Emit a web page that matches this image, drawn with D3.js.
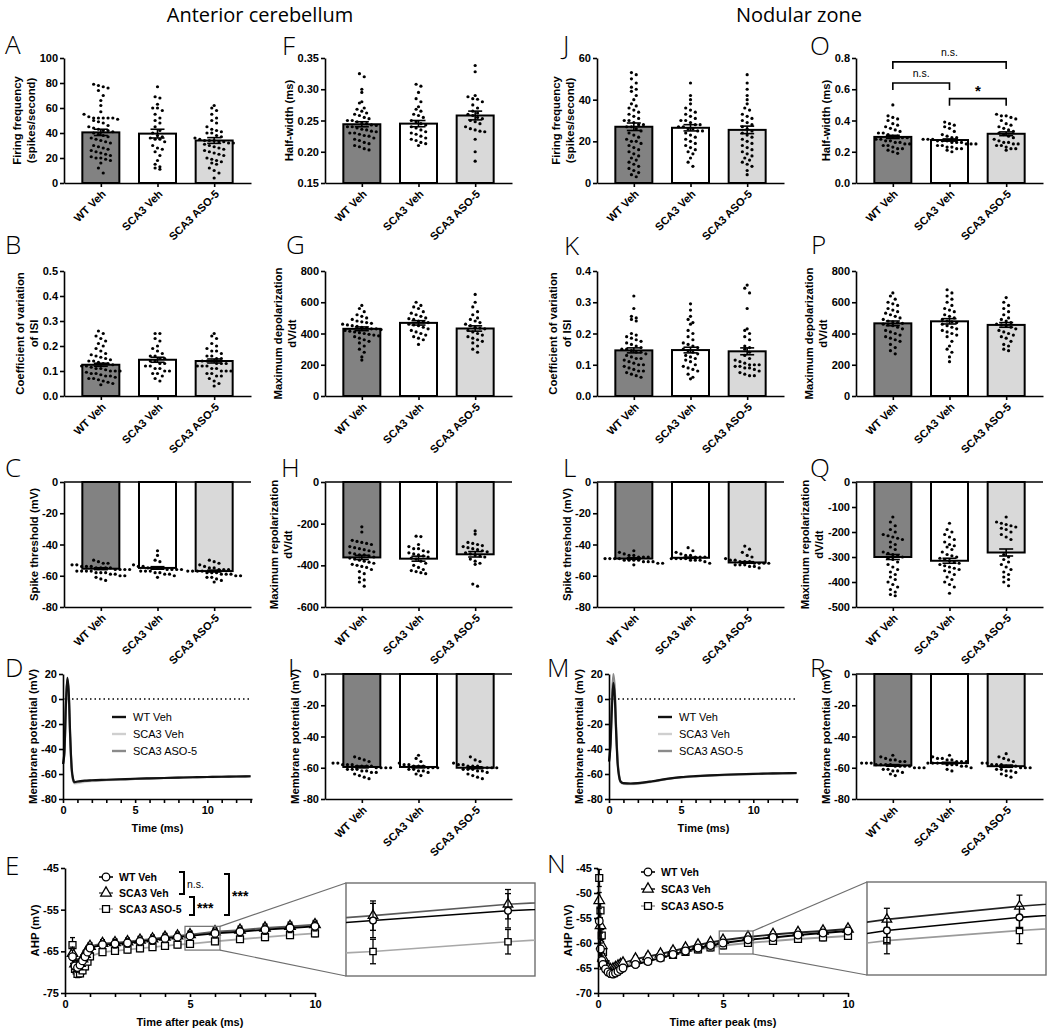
<!DOCTYPE html>
<html>
<head>
<meta charset="utf-8">
<script src="https://cdn.jsdelivr.net/npm/d3@7"></script>
<style>
  body { margin: 0; background: #fff; }
  svg { display: block; font-family: "Liberation Sans", Arial, sans-serif; }
</style>
</head>
<body>
<div id="chart"></div>
<script>
const groups = ["WT Veh", "SCA3 Veh", "SCA3 ASO-5"];

// ---- bar panels: means, SEM, individual cells ----
const aMean = [40.5, 39.5, 34.0], aSem = [2.5, 3.5, 2.3];
const aWT = [79,78,77,76,74,70,66,62,57,55,53,52,52,52,52,52,51,50,49,48,46,45,44,43,42,42,41,40,39,38,37,36,35,34,33,32,30,29,28,27,26,25,24,23,22,21,20,20,19,18,16,12,8];
const aSCA = [77,69,68,63,60,60,58,55,52,50,48,45,42,40,38,37,36,35,35,33,30,28,27,25,22,18,15,13,12,11];
const aASO = [62,60,58,55,52,50,48,45,43,42,41,40,40,38,37,36,35,34,34,34,33,33,32,32,31,30,29,28,27,26,25,24,23,22,20,19,18,17,16,15,12,10,8,4];

const bMean = [0.125, 0.145, 0.14], bSem = [0.006, 0.01, 0.008];
const bWT = [0.26,0.25,0.24,0.23,0.22,0.21,0.2,0.19,0.18,0.17,0.165,0.16,0.155,0.15,0.145,0.14,0.14,0.135,0.13,0.13,0.125,0.12,0.12,0.115,0.11,0.11,0.105,0.1,0.1,0.1,0.095,0.09,0.09,0.085,0.08,0.08,0.075,0.07,0.07,0.065,0.06,0.055,0.05,0.045];
const bSCA = [0.25,0.25,0.23,0.22,0.2,0.19,0.18,0.17,0.16,0.16,0.15,0.15,0.14,0.14,0.13,0.13,0.12,0.12,0.11,0.11,0.1,0.1,0.09,0.09,0.08,0.07,0.06];
const bASO = [0.25,0.24,0.23,0.21,0.2,0.19,0.18,0.18,0.17,0.16,0.16,0.15,0.15,0.14,0.14,0.14,0.13,0.13,0.13,0.12,0.12,0.12,0.11,0.11,0.1,0.1,0.1,0.09,0.09,0.08,0.08,0.07,0.06,0.05,0.04];

const cMean = [-55.5, -55.0, -57.0], cSem = [0.6, 0.8, 0.6];
const cWT = [-50,-51,-52,-52,-53,-53,-54,-54,-54,-55,-55,-55,-55,-56,-56,-56,-56,-57,-57,-57,-57,-58,-58,-58,-59,-59,-60,-60,-61,-62,-63];
const cSCA = [-44,-47,-50,-51,-53,-54,-54,-55,-55,-55,-55,-56,-56,-56,-56,-57,-57,-57,-58,-58,-59,-59,-60,-61];
const cASO = [-50,-51,-52,-53,-54,-55,-55,-56,-56,-56,-57,-57,-57,-57,-58,-58,-58,-59,-59,-59,-60,-60,-61,-61,-62,-63,-64];

const fMean = [0.244, 0.245, 0.258], fSem = [0.004, 0.005, 0.007];
const fWT = [0.325,0.32,0.3,0.295,0.28,0.278,0.27,0.268,0.265,0.262,0.26,0.258,0.255,0.253,0.25,0.25,0.248,0.246,0.245,0.243,0.242,0.24,0.24,0.238,0.236,0.235,0.233,0.232,0.23,0.23,0.228,0.226,0.225,0.222,0.22,0.218,0.215,0.213,0.21,0.208,0.205,0.203];
const fSCA = [0.308,0.305,0.295,0.285,0.28,0.272,0.268,0.265,0.26,0.258,0.255,0.25,0.248,0.245,0.243,0.24,0.238,0.235,0.232,0.23,0.228,0.225,0.222,0.22,0.218,0.215,0.213,0.21];
const fASO = [0.338,0.328,0.29,0.288,0.285,0.284,0.28,0.275,0.27,0.265,0.262,0.26,0.258,0.255,0.253,0.25,0.248,0.245,0.24,0.237,0.235,0.233,0.232,0.22,0.2,0.185];

const gMean = [430, 468, 432], gSem = [12, 14, 17];
const gWT = [580,560,540,520,510,500,490,480,475,470,465,460,455,450,445,440,435,430,430,425,420,415,410,405,400,395,390,385,380,370,360,350,340,320,300,280,250,230];
const gSCA = [600,580,570,560,540,530,520,510,500,495,490,480,475,470,460,455,450,440,430,420,410,400,390,380,370,360,330];
const gASO = [650,600,570,540,520,500,490,480,470,460,450,440,435,430,420,410,400,390,380,370,360,350,340,320,300,280];

const hMean = [-362, -368, -347], hSem = [10, 12, 13];
const hWT = [-215,-240,-280,-285,-290,-295,-300,-310,-315,-320,-325,-330,-335,-340,-345,-350,-350,-355,-360,-365,-370,-375,-380,-385,-390,-395,-400,-405,-410,-420,-430,-440,-460,-470,-480,-500];
const hSCA = [-260,-262,-300,-310,-320,-320,-330,-335,-340,-345,-350,-355,-360,-365,-370,-380,-390,-400,-410,-420,-425,-430,-435,-440];
const hASO = [-235,-250,-290,-295,-300,-305,-310,-315,-320,-325,-330,-335,-340,-345,-350,-355,-360,-370,-380,-390,-395,-490,-500];

const iMean = [-59.5, -59.5, -60.0], iSem = [0.6, 0.6, 0.6];
const iWT = [-53,-54,-55,-56,-57,-57,-58,-58,-58,-59,-59,-59,-59,-60,-60,-60,-60,-61,-61,-61,-62,-62,-63,-63,-64,-65,-66,-67];
const iSCA = [-52,-54,-56,-57,-58,-58,-59,-59,-59,-60,-60,-60,-61,-61,-62,-62,-63,-64,-65];
const iASO = [-53,-55,-56,-57,-58,-58,-59,-59,-59,-60,-60,-60,-60,-61,-61,-61,-62,-62,-63,-64,-65,-66,-67];

const jMean = [27, 26.5, 25.5], jSem = [1.8, 1.5, 1.8];
const jWT = [53,52,50,48,46,45,44,42,40,38,37,36,35,34,33,32,31,30,30,29,28,28,27,27,26,25,24,23,22,21,20,20,19,18,17,16,15,14,13,12,11,10,9,8,7,6,5,4,3];
const jSCA = [48,42,40,38,36,35,34,33,32,31,30,30,29,28,28,27,27,26,26,25,25,24,23,22,21,20,19,18,17,16,15,14,12,10,8];
const jASO = [52,48,45,42,40,38,36,35,33,32,31,30,29,28,27,26,25,24,23,22,21,20,19,18,17,16,15,14,13,12,11,10,9,8,6,4];

const kMean = [0.146, 0.147, 0.143], kSem = [0.008, 0.009, 0.011];
const kWT = [0.32,0.28,0.255,0.25,0.245,0.24,0.2,0.195,0.19,0.185,0.18,0.175,0.17,0.165,0.16,0.155,0.15,0.15,0.145,0.14,0.14,0.135,0.13,0.125,0.12,0.12,0.115,0.11,0.105,0.1,0.1,0.095,0.09,0.085,0.08,0.08,0.075,0.07,0.065,0.06];
const kSCA = [0.295,0.275,0.255,0.245,0.235,0.23,0.21,0.2,0.19,0.18,0.17,0.165,0.16,0.155,0.15,0.145,0.14,0.135,0.13,0.125,0.12,0.115,0.11,0.1,0.095,0.09,0.085,0.08,0.07,0.06,0.055];
const kASO = [0.355,0.345,0.33,0.28,0.215,0.21,0.2,0.19,0.18,0.16,0.155,0.15,0.14,0.13,0.12,0.115,0.11,0.105,0.1,0.1,0.1,0.095,0.095,0.09,0.09,0.085,0.08,0.075,0.07,0.065,0.065];

const lMean = [-49, -48.5, -51.5], lSem = [0.5, 0.4, 0.5];
const lWT = [-44,-45,-46,-47,-47,-48,-48,-48,-49,-49,-49,-49,-50,-50,-50,-50,-51,-51,-51,-52,-52,-53];
const lSCA = [-42,-44,-45,-46,-47,-47,-48,-48,-48,-49,-49,-49,-49,-50,-50,-50,-51,-52];
const lASO = [-41,-43,-45,-47,-48,-49,-50,-50,-51,-51,-51,-52,-52,-52,-52,-53,-53,-53,-54,-54,-55];

const oMean = [0.295, 0.275, 0.315], oSem = [0.01, 0.007, 0.012];
const oWT = [0.5,0.43,0.42,0.41,0.4,0.38,0.37,0.36,0.35,0.34,0.33,0.32,0.32,0.31,0.3,0.3,0.29,0.29,0.28,0.28,0.27,0.27,0.26,0.26,0.25,0.25,0.24,0.24,0.23,0.22,0.22,0.21,0.2,0.19];
const oSCA = [0.39,0.38,0.37,0.36,0.35,0.33,0.31,0.3,0.29,0.29,0.28,0.28,0.28,0.27,0.27,0.27,0.26,0.26,0.26,0.25,0.25,0.25,0.24,0.24,0.23,0.23,0.22,0.22,0.21,0.2];
const oASO = [0.44,0.43,0.43,0.42,0.41,0.4,0.38,0.37,0.36,0.35,0.34,0.33,0.32,0.31,0.3,0.29,0.28,0.27,0.26,0.26,0.25,0.25,0.24,0.24,0.23,0.22,0.22,0.21];
const oBrackets = [
  { from: 0, to: 2, level: 0.775, label: "n.s." },
  { from: 0, to: 1, level: 0.64, label: "n.s." },
  { from: 1, to: 2, level: 0.54, label: "*" }
];

const pMean = [465, 478, 455], pSem = [15, 17, 15];
const pWT = [660,640,620,600,590,580,560,550,540,530,520,510,500,490,480,475,470,465,460,455,450,440,430,420,410,400,390,380,370,360,350,330,310,290,270];
const pSCA = [680,660,640,620,600,580,560,550,540,520,510,500,490,480,475,470,460,450,440,430,420,410,400,390,380,350,320,300,280,250,220];
const pASO = [630,600,580,560,540,520,500,490,480,470,460,455,450,440,430,420,410,400,390,380,370,350,330,320,300,290];

const qMean = [-300, -315, -282], qSem = [10, 10, 14];
const qWT = [-140,-160,-175,-190,-200,-210,-215,-220,-225,-230,-240,-250,-260,-270,-280,-285,-290,-295,-300,-305,-310,-320,-330,-340,-350,-360,-370,-380,-390,-400,-410,-420,-430,-440,-450,-455];
const qSCA = [-165,-190,-200,-210,-220,-230,-240,-250,-255,-260,-270,-280,-290,-295,-300,-305,-310,-315,-320,-325,-330,-335,-340,-345,-350,-355,-360,-370,-380,-390,-400,-410,-420,-445];
const qASO = [-140,-160,-165,-170,-175,-180,-185,-190,-200,-210,-220,-230,-290,-300,-310,-320,-330,-340,-350,-360,-370,-380,-390,-400,-415];

const rMean = [-58.5, -57, -59], rSem = [0.5, 0.5, 0.7];
const rWT = [-52,-53,-54,-55,-55,-56,-56,-57,-57,-57,-58,-58,-58,-58,-59,-59,-59,-59,-60,-60,-60,-61,-61,-62,-62,-63,-64,-65];
const rSCA = [-52,-53,-54,-54,-55,-55,-56,-56,-56,-57,-57,-57,-57,-58,-58,-58,-59,-59,-60,-61,-62];
const rASO = [-51,-53,-54,-55,-56,-57,-57,-58,-58,-58,-59,-59,-59,-60,-60,-60,-61,-61,-62,-62,-63,-64,-65,-66];

// ---- average action potential traces (D, M) ----
const traceT = [0,0.1,0.2,0.3,0.4,0.5,0.6,0.7,0.8,1.0,1.5,2,3,4,5,6,7,8,9,10,11,12,13];
const dWT  = [-52,-42,-5,17,5,-30,-55,-64,-66.5,-66,-65.3,-65,-64.6,-64.2,-63.8,-63.5,-63.2,-62.9,-62.6,-62.4,-62.2,-62.0,-61.8];
const dSCA = [-52,-43,-8,15,3,-32,-57,-65.5,-67.5,-67.3,-66.3,-65.7,-65,-64.5,-64,-63.6,-63.3,-63,-62.7,-62.5,-62.3,-62.1,-61.9];
const dASO = [-52,-42,-6,16,4,-31,-56,-64.5,-66.8,-66.4,-65.6,-65.2,-64.8,-64.3,-63.9,-63.5,-63.2,-62.9,-62.6,-62.4,-62.2,-62.0,-61.8];
const mWT  = [-50,-38,-8,13,2,-28,-52,-62,-66,-67.3,-67.6,-67.3,-65.8,-63.9,-62.5,-61.7,-61.1,-60.6,-60.2,-59.9,-59.6,-59.4,-59.2];
const mSCA = [-50,-37,-5,17,6,-26,-51,-62,-66.5,-68,-68.2,-67.8,-66.2,-64.2,-62.8,-62,-61.4,-60.9,-60.5,-60.1,-59.8,-59.6,-59.4];
const mASO = [-50,-35,-2,20,8,-25,-50,-61,-66,-67.5,-67.8,-67.5,-66,-64,-62.6,-61.8,-61.2,-60.7,-60.3,-60,-59.7,-59.5,-59.3];

// ---- AHP time courses (E, N) ----
const eT = [0.3,0.4,0.5,0.6,0.7,0.8,0.9,1.0,1.5,2,2.5,3,3.5,4,4.5,5,6,7,8,9,10];
const eWT  = [-66.3,-68.5,-68.9,-68.3,-67.3,-66.3,-65.2,-64.2,-63.4,-63.2,-63.0,-62.6,-62.3,-61.9,-61.6,-61.3,-60.7,-60.3,-59.8,-59.4,-59.0];
const eSCA = [-65.5,-68.0,-68.6,-67.9,-66.8,-65.7,-64.7,-63.8,-63.1,-62.9,-62.7,-62.3,-62.0,-61.6,-61.3,-61.0,-60.3,-59.9,-59.4,-59.0,-58.6];
const eASO = [-63.5,-69.2,-70.4,-70.3,-69.6,-68.6,-67.5,-66.2,-65.2,-64.9,-64.6,-64.3,-64.0,-63.7,-63.4,-63.2,-62.6,-62.1,-61.6,-61.1,-60.7];
const eWTsem  = [1.6,1.3,1.1,1.0,1.0,0.9,0.9,0.9,0.9,1.0,1.0,1.0,1.0,1.0,1.0,1.05,1.05,1.05,1.1,1.1,1.1];
const eSCAsem = [1.5,1.2,1.0,1.0,0.9,0.9,0.9,0.9,0.9,0.9,0.9,0.9,0.9,0.9,0.9,0.9,0.9,0.95,0.95,1.0,1.0];
const eASOsem = [1.8,1.2,0.9,0.8,0.8,0.8,0.8,0.8,0.75,0.75,0.75,0.75,0.75,0.75,0.75,0.75,0.75,0.75,0.8,0.8,0.8];

const nT = [0.05,0.1,0.15,0.2,0.3,0.4,0.5,0.6,0.7,0.8,0.9,1.0,1.5,2,2.5,3,3.5,4,4.5,5,6,7,8,9,10];
const nWT  = [-55.6,-61.2,-63.5,-64.3,-65.2,-65.8,-66.1,-66.2,-66.0,-65.7,-65.3,-65.0,-64.3,-63.7,-63.0,-62.3,-61.6,-61.0,-60.5,-60.0,-59.35,-58.9,-58.4,-58.0,-57.6];
const nSCA = [-51.5,-56.5,-60.5,-63.0,-64.6,-65.1,-65.3,-65.2,-64.9,-64.6,-64.3,-64.0,-63.2,-62.7,-62.2,-61.6,-61.0,-60.4,-59.9,-59.45,-58.8,-58.3,-57.9,-57.6,-57.2];
const nASO = [-47.0,-53.5,-58.5,-61.8,-64.2,-65.2,-65.6,-65.7,-65.5,-65.2,-64.8,-64.5,-64.0,-63.5,-62.9,-62.4,-61.8,-61.3,-60.9,-60.5,-60.0,-59.6,-59.2,-58.9,-58.6];
const nWTsem  = [1.5,1.2,0.9,0.8,0.7,0.7,0.7,0.7,0.7,0.7,0.7,0.7,0.6,0.6,0.6,0.6,0.6,0.6,0.6,0.6,0.55,0.55,0.55,0.55,0.55];
const nSCAsem = [1.6,1.5,1.2,0.9,0.7,0.7,0.7,0.7,0.6,0.6,0.6,0.6,0.6,0.6,0.6,0.6,0.55,0.55,0.55,0.55,0.55,0.55,0.55,0.55,0.55];
const nASOsem = [1.7,1.5,1.2,1.0,0.8,0.7,0.7,0.7,0.7,0.7,0.7,0.7,0.65,0.65,0.65,0.65,0.65,0.65,0.65,0.65,0.65,0.65,0.65,0.65,0.65];

// ---- layout ----
const colX = [64, 325, 597, 856];
const rowTop = [58, 271, 482, 674, 868];
const PH = 125, PW = 187, BW = 37;
const fills = ["#828282", "#ffffff", "#d9d9d9"];
const font = "'Liberation Sans', Arial, sans-serif";
const minus = f => d => d3.format(f)(d).replace("\u2212", "-");

const svg = d3.select("#chart").append("svg")
  .attr("width", 1050).attr("height", 1032)
  .attr("viewBox", "0 0 1050 1032");

function styleAxis(sel) {
  sel.attr("font-family", font);
  sel.select(".domain").attr("stroke", "#000").attr("stroke-width", 1.6);
  sel.selectAll(".tick line").attr("stroke", "#000").attr("stroke-width", 1.6);
  sel.selectAll(".tick text").attr("font-size", 11).attr("font-weight", "bold").attr("fill", "#000");
}

function yAxis(g, y, x0, ticks, fmt) {
  const ax = g.append("g").attr("transform", `translate(${x0},0)`)
    .call(d3.axisLeft(y).tickValues(ticks).tickFormat(minus(fmt)).tickSize(4).tickPadding(2).tickSizeOuter(0))
    .call(styleAxis);
  let w = 0;
  ax.selectAll(".tick text").each(function () { w = Math.max(w, this.getComputedTextLength()); });
  return x0 - 6 - w - 8.5;
}

function yTitle(g, lines, xNear, top) {
  const cy = top + PH / 2;
  lines.forEach((t, i) => {
    const x = xNear - (lines.length - 1 - i) * 14.5;
    g.append("text")
      .attr("transform", `translate(${x},${cy}) rotate(-90)`)
      .attr("text-anchor", "middle").attr("dy", "0.35em")
      .attr("font-family", font).attr("font-size", 11.3).attr("font-weight", "bold")
      .text(t);
  });
}

// column-scatter layout: spread values that fall in the same pixel band
function swarm(vals, y, cx) {
  const pts = vals.map(v => ({ py: y(v) })).sort((a, b) => a.py - b.py);
  const rows = d3.groups(pts, p => Math.floor(p.py / 6));
  const out = [];
  rows.forEach(([, r]) => {
    r.forEach((p, i) => out.push({ x: cx + (i - (r.length - 1) / 2) * 4.8, y: p.py }));
  });
  return out;
}

function barPanel(p) {
  const x0 = colX[p.col], top = rowTop[p.row], bottom = top + PH;
  const y = d3.scaleLinear().domain(p.dom).range([bottom, top]);
  const x = d3.scalePoint().domain(groups).range([x0, x0 + PW]).padding(0.65);
  const neg = p.dom[1] === 0;
  const base = neg ? 0 : p.dom[0];
  const g = svg.append("g");

  g.selectAll("rect.bar").data(groups).join("rect")
    .attr("class", "bar")
    .attr("x", d => x(d) - BW / 2).attr("width", BW)
    .attr("y", (d, i) => Math.min(y(p.means[i]), y(base)))
    .attr("height", (d, i) => Math.abs(y(p.means[i]) - y(base)))
    .attr("fill", (d, i) => fills[i])
    .attr("stroke", "#000").attr("stroke-width", 2);

  groups.forEach((gr, i) => {
    g.append("g").selectAll("circle")
      .data(swarm(p.dots[i], y, x(gr)))
      .join("circle")
      .attr("cx", d => d.x).attr("cy", d => d.y).attr("r", 1.6).attr("fill", "#000");
  });

  // mean +/- SEM
  groups.forEach((gr, i) => {
    const cx = x(gr), hi = y(p.means[i] + p.sems[i]), lo = y(p.means[i] - p.sems[i]);
    const eb = g.append("g").attr("stroke", "#000").attr("stroke-width", 1.6);
    eb.append("line").attr("x1", cx).attr("x2", cx).attr("y1", hi).attr("y2", lo);
    eb.append("line").attr("x1", cx - 7).attr("x2", cx + 7).attr("y1", hi).attr("y2", hi);
    eb.append("line").attr("x1", cx - 7).attr("x2", cx + 7).attr("y1", lo).attr("y2", lo);
  });

  const tx = yAxis(g, y, x0, p.ticks, p.fmt);

  g.append("g").attr("transform", `translate(0,${bottom})`)
    .call(d3.axisBottom(x).tickFormat("").tickSize(4).tickSizeOuter(0))
    .call(styleAxis);

  if (neg) {
    g.append("line").attr("x1", x0).attr("x2", x0 + PW)
      .attr("y1", y(0)).attr("y2", y(0))
      .attr("stroke", "#000").attr("stroke-width", 1.6);
  }

  g.selectAll("text.xl").data(groups).join("text")
    .attr("class", "xl")
    .attr("transform", d => `translate(${x(d) + 3},${bottom + 9}) rotate(-45)`)
    .attr("text-anchor", "end").attr("dy", "0.35em")
    .attr("font-family", font).attr("font-size", 11).attr("font-weight", "bold")
    .text(d => d);

  yTitle(g, p.title, tx, top);

  if (p.brackets) {
    p.brackets.forEach(b => {
      const xa = x(groups[b.from]), xb = x(groups[b.to]), yy = y(b.level);
      g.append("path")
        .attr("d", `M${xa},${yy + 7}V${yy}H${xb}V${yy + 7}`)
        .attr("fill", "none").attr("stroke", "#000").attr("stroke-width", 1.6);
      g.append("text")
        .attr("x", (xa + xb) / 2).attr("y", b.label === "*" ? yy - 3 : yy - 6)
        .attr("text-anchor", "middle").attr("font-family", font)
        .attr("font-size", b.label === "*" ? 15 : 10.5)
        .attr("font-weight", b.label === "*" ? "bold" : "normal")
        .text(b.label);
    });
  }
}

const fFirst = ["Firing frequency", "(spikes/second)"];
const fCV = ["Coefficient of variation", "of ISI"];
const fThr = ["Spike threshold (mV)"];
const fHW = ["Half-width (ms)"];
const fDep = ["Maximum depolarization", "dV/dt"];
const fRep = ["Maximum repolarization", "dV/dt"];
const fVm = ["Membrane potential  (mV)"];

const barPanels = [
  { col: 0, row: 0, dom: [0, 100], ticks: [0, 20, 40, 60, 80, 100], fmt: "d", title: fFirst, means: aMean, sems: aSem, dots: [aWT, aSCA, aASO] },
  { col: 0, row: 1, dom: [0, 0.5], ticks: [0, 0.1, 0.2, 0.3, 0.4, 0.5], fmt: ".1f", title: fCV, means: bMean, sems: bSem, dots: [bWT, bSCA, bASO] },
  { col: 0, row: 2, dom: [-80, 0], ticks: [-80, -60, -40, -20, 0], fmt: "d", title: fThr, means: cMean, sems: cSem, dots: [cWT, cSCA, cASO] },
  { col: 1, row: 0, dom: [0.15, 0.35], ticks: [0.15, 0.2, 0.25, 0.3, 0.35], fmt: ".2f", title: fHW, means: fMean, sems: fSem, dots: [fWT, fSCA, fASO] },
  { col: 1, row: 1, dom: [0, 800], ticks: [0, 200, 400, 600, 800], fmt: "d", title: fDep, means: gMean, sems: gSem, dots: [gWT, gSCA, gASO] },
  { col: 1, row: 2, dom: [-600, 0], ticks: [-600, -400, -200, 0], fmt: "d", title: fRep, means: hMean, sems: hSem, dots: [hWT, hSCA, hASO] },
  { col: 1, row: 3, dom: [-80, 0], ticks: [-80, -60, -40, -20, 0], fmt: "d", title: fVm, means: iMean, sems: iSem, dots: [iWT, iSCA, iASO] },
  { col: 2, row: 0, dom: [0, 60], ticks: [0, 20, 40, 60], fmt: "d", title: fFirst, means: jMean, sems: jSem, dots: [jWT, jSCA, jASO] },
  { col: 2, row: 1, dom: [0, 0.4], ticks: [0, 0.1, 0.2, 0.3, 0.4], fmt: ".1f", title: fCV, means: kMean, sems: kSem, dots: [kWT, kSCA, kASO] },
  { col: 2, row: 2, dom: [-80, 0], ticks: [-80, -60, -40, -20, 0], fmt: "d", title: fThr, means: lMean, sems: lSem, dots: [lWT, lSCA, lASO] },
  { col: 3, row: 0, dom: [0, 0.8], ticks: [0, 0.2, 0.4, 0.6, 0.8], fmt: ".1f", title: fHW, means: oMean, sems: oSem, dots: [oWT, oSCA, oASO], brackets: oBrackets },
  { col: 3, row: 1, dom: [0, 800], ticks: [0, 200, 400, 600, 800], fmt: "d", title: fDep, means: pMean, sems: pSem, dots: [pWT, pSCA, pASO] },
  { col: 3, row: 2, dom: [-500, 0], ticks: [-500, -400, -300, -200, -100, 0], fmt: "d", title: fRep, means: qMean, sems: qSem, dots: [qWT, qSCA, qASO] },
  { col: 3, row: 3, dom: [-80, 0], ticks: [-80, -60, -40, -20, 0], fmt: "d", title: fVm, means: rMean, sems: rSem, dots: [rWT, rSCA, rASO] }
];
barPanels.forEach(barPanel);

// ---- trace panels ----
function tracePanel(cfg) {
  const x0 = cfg.x0, top = rowTop[3], bottom = top + PH, w = 189;
  const x = d3.scaleLinear().domain([0, 13.1]).range([x0, x0 + w]);
  const y = d3.scaleLinear().domain([-80, 20]).range([bottom, top]);
  const g = svg.append("g");

  g.append("line").attr("x1", x0).attr("x2", x0 + w).attr("y1", y(0)).attr("y2", y(0))
    .attr("stroke", "#000").attr("stroke-width", 1.4).attr("stroke-dasharray", "1.5,3");

  const line = d3.line().x((d, i) => x(traceT[i])).y(d => y(d)).curve(d3.curveMonotoneX);
  cfg.series.forEach(s => {
    g.append("path").datum(s.v).attr("d", line)
      .attr("fill", "none").attr("stroke", s.c).attr("stroke-width", 2.2);
  });

  const tx = yAxis(g, y, x0, [-80, -60, -40, -20, 0, 20], "d");
  g.append("g").attr("transform", `translate(0,${bottom})`)
    .call(d3.axisBottom(x).tickValues(d3.range(0, 14)).tickFormat(d => d % 5 === 0 ? d : "").tickSize(4).tickSizeOuter(0))
    .call(styleAxis);

  g.append("text").attr("x", x0 + w / 2).attr("y", bottom + 33)
    .attr("text-anchor", "middle").attr("font-family", font)
    .attr("font-size", 11).attr("font-weight", "bold").text("Time (ms)");

  yTitle(g, fVm, tx, top);

  const leg = g.append("g");
  cfg.legend.forEach((t, i) => {
    const ly = cfg.legY + i * 17;
    leg.append("line").attr("x1", cfg.legX).attr("x2", cfg.legX + 14).attr("y1", ly).attr("y2", ly)
      .attr("stroke", cfg.legColors[i]).attr("stroke-width", 2.4);
    leg.append("text").attr("x", cfg.legX + 21).attr("y", ly).attr("dy", "0.35em")
      .attr("font-family", font).attr("font-size", 11).text(t);
  });
}

tracePanel({
  x0: 63, legX: 112, legY: 717,
  series: [{ v: dSCA, c: "#cfcfcf" }, { v: dASO, c: "#8a8a8a" }, { v: dWT, c: "#111" }],
  legend: ["WT Veh", "SCA3 Veh", "SCA3 ASO-5"], legColors: ["#111", "#cfcfcf", "#8a8a8a"]
});
tracePanel({
  x0: 609, legX: 658, legY: 717,
  series: [{ v: mSCA, c: "#cfcfcf" }, { v: mASO, c: "#8a8a8a" }, { v: mWT, c: "#111" }],
  legend: ["WT  Veh", "SCA3 Veh", "SCA3 ASO-5"], legColors: ["#111", "#cfcfcf", "#8a8a8a"]
});

// ---- AHP panels with zoom insets ----
function marker(sel, kind, size) {
  if (kind === "circle") {
    return sel.append("circle").attr("r", size === "s" ? 3.4 : 3.8);
  }
  const type = kind === "tri" ? d3.symbolTriangle : d3.symbolSquare;
  return sel.append("path").attr("d", d3.symbol().type(type).size(size === "s" ? 40 : 48)());
}

function ahpPanel(cfg) {
  const x0 = cfg.x0, top = rowTop[4], bottom = top + PH, w = 250;
  const x = d3.scaleLinear().domain([0, 10]).range([x0, x0 + w]);
  const y = d3.scaleLinear().domain(cfg.dom).range([bottom, top]);
  const g = svg.append("g");

  function drawSeries(layer, xs, ys, small, filterT) {
    cfg.series.forEach(s => {
      const line = d3.line().x((d, i) => xs(cfg.t[i])).y(d => ys(d));
      layer.append("path").datum(s.v).attr("d", line)
        .attr("fill", "none").attr("stroke", s.c).attr("stroke-width", small ? 1.6 : 1.8);
      const idx = d3.range(cfg.t.length).filter(i => !filterT || (cfg.t[i] >= filterT[0] && cfg.t[i] <= filterT[1]));
      const cap = small ? 3 : 2.5;
      idx.forEach(i => {
        const cx = xs(cfg.t[i]), hi = ys(s.v[i] + s.sem[i]), lo = ys(s.v[i] - s.sem[i]);
        const eb = layer.append("g").attr("stroke", "#000").attr("stroke-width", 1.3);
        eb.append("line").attr("x1", cx).attr("x2", cx).attr("y1", hi).attr("y2", lo);
        eb.append("line").attr("x1", cx - cap).attr("x2", cx + cap).attr("y1", hi).attr("y2", hi);
        eb.append("line").attr("x1", cx - cap).attr("x2", cx + cap).attr("y1", lo).attr("y2", lo);
      });
      idx.forEach(i => {
        const m = layer.append("g").attr("transform", `translate(${xs(cfg.t[i])},${ys(s.v[i])})`);
        marker(m, s.m, small ? "s" : "l").attr("fill", "#fff").attr("stroke", "#000").attr("stroke-width", 1.3);
      });
    });
  }

  drawSeries(g.append("g"), x, y, false, null);

  const tx = yAxis(g, y, x0, cfg.ticks, "d");
  g.append("g").attr("transform", `translate(0,${bottom})`)
    .call(d3.axisBottom(x).tickValues(d3.range(0, 11)).tickFormat(d => d % 5 === 0 ? d : "").tickSize(4).tickSizeOuter(0))
    .call(styleAxis);

  g.append("text").attr("x", x0 + w / 2).attr("y", bottom + 33)
    .attr("text-anchor", "middle").attr("font-family", font)
    .attr("font-size", 11).attr("font-weight", "bold").text("Time after peak (ms)");
  yTitle(g, ["AHP (mV)"], tx, top);

  // zoomed region box and connectors
  const zb = { x1: x(cfg.zt[0]), x2: x(cfg.zt[1]), y1: y(cfg.zv[1]), y2: y(cfg.zv[0]) };
  const ib = cfg.inset;
  g.append("rect").attr("x", zb.x1).attr("y", zb.y1).attr("width", zb.x2 - zb.x1).attr("height", zb.y2 - zb.y1)
    .attr("fill", "none").attr("stroke", "#6e6e6e").attr("stroke-width", 1.2);
  g.append("line").attr("x1", zb.x2).attr("y1", zb.y1).attr("x2", ib.x).attr("y2", ib.y)
    .attr("stroke", "#6e6e6e").attr("stroke-width", 1.2);
  g.append("line").attr("x1", zb.x2).attr("y1", zb.y2).attr("x2", ib.x).attr("y2", ib.y + ib.h)
    .attr("stroke", "#6e6e6e").attr("stroke-width", 1.2);

  const xi = d3.scaleLinear().domain(cfg.zt).range([ib.x, ib.x + ib.w]);
  const yi = d3.scaleLinear().domain(cfg.zv).range([ib.y + ib.h, ib.y]);
  g.append("rect").attr("x", ib.x).attr("y", ib.y).attr("width", ib.w).attr("height", ib.h)
    .attr("fill", "#fff").attr("stroke", "#6e6e6e").attr("stroke-width", 1.4);
  svg.append("clipPath").attr("id", cfg.id).append("rect")
    .attr("x", ib.x).attr("y", ib.y).attr("width", ib.w).attr("height", ib.h);
  drawSeries(g.append("g").attr("clip-path", `url(#${cfg.id})`), xi, yi, true, cfg.zt);

  // legend
  const order = [2, 1, 0];
  cfg.legend.forEach((t, i) => {
    const s = cfg.series[order[i]];
    const ly = cfg.legY[i];
    g.append("line").attr("x1", cfg.legX - 7).attr("x2", cfg.legX + 7).attr("y1", ly).attr("y2", ly)
      .attr("stroke", s.c).attr("stroke-width", 1.6);
    const m = g.append("g").attr("transform", `translate(${cfg.legX},${ly})`);
    marker(m, s.m, "l").attr("fill", "#fff").attr("stroke", "#000").attr("stroke-width", 1.3);
    g.append("text").attr("x", cfg.legX + 13).attr("y", ly).attr("dy", "0.35em")
      .attr("font-family", font).attr("font-size", 10.5).attr("font-weight", "bold").text(t);
  });
  if (cfg.after) cfg.after(g);
}

ahpPanel({
  id: "clipE", x0: 65, dom: [-75, -45], ticks: [-75, -65, -55, -45], t: eT,
  series: [
    { v: eASO, sem: eASOsem, c: "#a8a8a8", m: "square" },
    { v: eSCA, sem: eSCAsem, c: "#5a5a5a", m: "tri" },
    { v: eWT, sem: eWTsem, c: "#000", m: "circle" }
  ],
  zt: [4.8, 6.2], zv: [-64.7, -59.0],
  inset: { x: 346, y: 883, w: 189, h: 93 },
  legend: ["WT  Veh", "SCA3 Veh", "SCA3 ASO-5"], legX: 106, legY: [877, 893, 909],
  after: g => {
    const br = (xv, y1, y2) => g.append("path").attr("d", `M${xv - 5},${y1}H${xv}V${y2}H${xv - 5}`)
      .attr("fill", "none").attr("stroke", "#000").attr("stroke-width", 2);
    br(184, 872, 894);
    br(194, 897, 915);
    br(229, 874, 915);
    g.append("text").attr("x", 187).attr("y", 888).attr("font-family", font).attr("font-size", 10.5).text("n.s.");
    g.append("text").attr("x", 197).attr("y", 913).attr("font-family", font).attr("font-size", 14).attr("font-weight", "bold").text("***");
    g.append("text").attr("x", 232).attr("y", 901).attr("font-family", font).attr("font-size", 14).attr("font-weight", "bold").text("***");
  }
});

ahpPanel({
  id: "clipN", x0: 598, dom: [-70, -45], ticks: [-70, -65, -60, -55, -50, -45], t: nT,
  series: [
    { v: nASO, sem: nASOsem, c: "#9a9a9a", m: "square" },
    { v: nSCA, sem: nSCAsem, c: "#222", m: "tri" },
    { v: nWT, sem: nWTsem, c: "#000", m: "circle" }
  ],
  zt: [4.85, 6.2], zv: [-62.2, -57.6],
  inset: { x: 867, y: 882, w: 179, h: 93 },
  legend: ["WT Veh", "SCA3 Veh", "SCA3 ASO-5"], legX: 648, legY: [872, 889, 906]
});

// ---- headings and panel letters ----
const heads = [{ t: "Anterior cerebellum", x: 260 }, { t: "Nodular zone", x: 799 }];
svg.selectAll("text.head").data(heads).join("text")
  .attr("class", "head").attr("x", d => d.x).attr("y", 22)
  .attr("text-anchor", "middle").attr("font-family", "'Open Sans', 'Noto Sans', sans-serif")
  .attr("font-size", 20).text(d => d.t);

const letters = [
  ["A", 5, 54], ["F", 282, 55], ["J", 563, 54], ["O", 810, 55],
  ["B", 5, 254], ["G", 286, 254], ["K", 564, 255], ["P", 811, 254],
  ["C", 5, 477], ["H", 281, 477], ["L", 563, 477], ["Q", 810, 477],
  ["D", 5, 677], ["I", 288, 677], ["M", 547, 677], ["R", 810, 677],
  ["E", 5, 875], ["N", 547, 873]
];
svg.selectAll("text.letter").data(letters).join("text")
  .attr("class", "letter").attr("x", d => d[1]).attr("y", d => d[2])
  .attr("font-family", "'Open Sans', 'Noto Sans', sans-serif")
  .attr("font-size", 26).attr("font-weight", 300).text(d => d[0]);
</script>
</body>
</html>
